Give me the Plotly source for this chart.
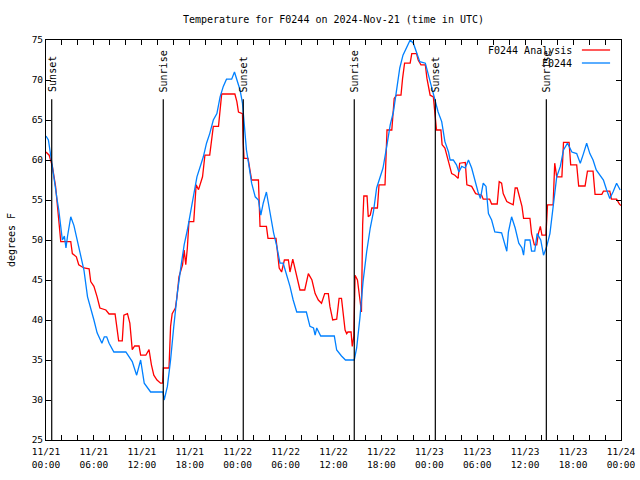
import pandas as pd
import plotly.graph_objects as go

BASE = pd.Timestamp("2024-11-21 00:00")

# Observations (F0244) - hours since 11/21 00:00 UTC, degrees F
obs_hours = [0, 0.3, 0.6, 1.0, 1.4, 1.6, 1.85, 2.05, 2.3, 2.5, 2.7, 3.1, 3.5, 3.9, 4.3, 4.75, 5.2, 5.6,
             6.0, 6.4, 6.85, 7.0, 7.3, 7.6, 7.9, 8.5, 10.0, 10.8, 11.35, 11.85, 12.3, 13.1, 14.65, 14.8,
             15.2, 15.6, 16.0, 16.45, 16.9, 17.3, 17.7, 18.1, 18.45, 18.9, 19.3, 19.7, 20.1, 20.5, 20.95,
             21.4, 21.8, 22.2, 22.6, 23.25, 23.6, 23.9, 24.3, 24.6, 24.9, 25.1, 25.3, 25.5, 25.75, 26.2,
             26.6, 26.9, 27.2, 27.6, 28.0, 28.5, 28.9, 29.3, 29.7, 30.1, 30.55, 30.95, 31.4, 32.6, 33.05,
             33.5, 33.7, 33.9, 34.4, 36.1, 36.4, 37.0, 37.5, 38.6, 38.9, 39.3, 39.7, 40.15, 40.6, 41.0,
             41.4, 41.8, 42.2, 42.7, 43.1, 43.5, 43.9, 44.3, 44.7, 45.2, 45.6, 46.0, 46.4, 46.8, 47.5,
             47.9, 48.3, 48.7, 49.1, 49.55, 49.95, 50.4, 50.6, 51.0, 51.4, 51.7, 52.05, 52.5, 52.9, 53.3,
             53.7, 54.1, 54.4, 54.75, 55.1, 55.4, 55.8, 56.2, 57.05, 57.5, 57.7, 57.9, 58.3, 58.75, 59.2,
             59.6, 59.8, 60.0, 60.6, 60.8, 61.2, 61.5, 61.95, 62.3, 62.7, 63.1, 63.5, 63.95, 64.4, 64.8,
             65.3, 65.85, 66.45, 66.9, 67.3, 67.7, 68.1, 68.5, 68.9, 69.4, 69.8, 70.2, 70.6, 71.0, 71.45,
             71.9]
obs_temp = [63.0, 62.5, 60.5, 57.5, 55.0, 53.75, 51.7, 50.0, 50.5, 49.0, 50.5, 52.9, 51.8, 50.0, 48.4,
            46.25, 42.9, 41.6, 40.0, 38.4, 37.5, 37.1, 37.9, 37.9, 37.1, 36.0, 36.0, 34.8, 33.1, 35.0, 32.1,
            31.0, 31.0, 30.0, 31.7, 35.0, 39.2, 43.4, 46.7, 49.4, 51.25, 53.75, 55.4, 57.9, 59.2, 60.4,
            62.1, 63.3, 65.0, 65.8, 67.9, 69.2, 70.1, 70.1, 71.0, 70.0, 68.75, 67.1, 62.9, 61.25, 60.0,
            58.4, 57.1, 55.4, 55.0, 53.1, 54.6, 56.0, 53.75, 50.9, 49.2, 47.1, 47.1, 45.8, 44.2, 42.5,
            41.0, 41.0, 39.2, 39.0, 38.1, 39.0, 38.0, 38.0, 36.25, 35.5, 35.0, 35.0, 36.5, 40.2, 44.8,
            48.5, 51.5, 53.5, 56.5, 57.75, 59.0, 61.9, 64.4, 66.0, 69.0, 71.5, 73.1, 74.2, 75.0, 74.6,
            73.5, 72.3, 72.1, 70.6, 69.0, 67.3, 66.0, 64.8, 62.3, 61.0, 60.0, 60.0, 59.4, 58.5, 59.2,
            59.0, 60.0, 59.0, 57.3, 56.0, 55.2, 57.1, 56.7, 53.3, 52.5, 51.0, 50.9, 49.2, 48.6, 51.0,
            52.9, 51.5, 49.6, 49.0, 48.1, 50.0, 50.0, 48.6, 48.6, 50.8, 50.0, 48.1, 49.2, 50.8, 54.2,
            57.9, 59.2, 61.25, 62.1, 61.0, 60.8, 59.6, 60.8, 62.1, 60.8, 60.0, 58.75, 58.1, 57.5, 56.25,
            55.2, 56.0, 57.1, 56.25]

# Analysis (F0244 Analysis)
ana_hours = [0, 0.4, 0.8, 1.0, 1.2, 1.4, 1.6, 1.85, 3.1, 3.3, 3.8, 4.1, 4.75, 5.4, 5.6, 6.0, 6.4, 6.75,
             7.5, 7.9, 8.65, 8.9, 9.1, 9.55, 9.75, 10.2, 10.5, 10.8, 11.1, 11.65, 11.85, 12.5, 12.9, 13.2,
             13.5, 13.9, 14.35, 14.6, 14.7, 15.4, 15.6, 15.8, 16.2, 16.4, 16.65, 17.1, 17.3, 17.5, 17.7,
             17.9, 18.5, 18.8, 19.1, 19.6, 19.9, 20.5, 20.65, 20.95, 21.6, 21.8, 22.0, 23.65, 23.9, 24.1,
             24.6, 24.7, 24.8, 25.3, 25.75, 26.6, 26.8, 27.6, 27.8, 28.8, 29.0, 29.2, 29.5, 29.85, 30.35,
             30.55, 30.9, 31.3, 31.8, 32.4, 32.85, 33.3, 33.7, 34.1, 34.5, 34.9, 35.35, 35.55, 35.9, 36.4,
             36.7, 37.0, 37.45, 37.65, 37.8, 38.2, 38.35, 38.55, 38.7, 39.0, 39.3, 39.5, 39.65, 39.8, 40.2,
             40.35, 40.6, 40.8, 41.5, 41.7, 42.45, 42.7, 43.3, 43.6, 43.9, 44.45, 44.65, 44.9, 45.6, 45.8,
             46.4, 46.6, 46.95, 47.5, 47.7, 48.1, 48.5, 48.7, 48.9, 49.45, 49.6, 49.95, 50.4, 50.8, 51.2,
             51.6, 51.8, 52.5, 52.7, 53.3, 53.8, 54.55, 54.75, 55.55, 55.8, 56.5, 56.75, 57.05, 57.25,
             57.7, 58.5, 58.75, 59.0, 59.35, 59.6, 59.8, 60.6, 60.8, 61.15, 61.45, 61.65, 61.9, 62.1,
             62.6, 62.8, 63.5, 63.7, 63.95, 64.6, 64.8, 65.5, 65.7, 66.45, 66.7, 67.5, 67.8, 68.5, 68.75,
             69.6, 69.8, 70.6, 70.8, 71.45, 71.8, 72.0]
ana_temp = [61.0, 60.6, 59.2, 57.9, 56.7, 54.6, 52.1, 49.8, 49.8, 48.3, 47.9, 46.9, 46.5, 46.4, 44.8,
            44.2, 42.9, 41.5, 41.25, 40.75, 40.75, 39.2, 37.4, 37.4, 40.6, 40.8, 39.6, 36.3, 36.75, 36.75,
            35.6, 35.6, 36.3, 34.4, 33.1, 32.5, 32.1, 32.1, 34.0, 34.0, 39.2, 40.8, 41.5, 42.9, 45.4,
            46.9, 48.75, 46.9, 49.0, 52.3, 52.3, 56.9, 56.3, 57.9, 60.6, 60.6, 62.1, 64.2, 64.2, 66.7,
            68.25, 68.25, 67.3, 66.0, 65.8, 62.1, 60.2, 60.2, 57.5, 57.5, 51.7, 51.7, 50.2, 50.2, 48.3,
            46.5, 46.0, 47.5, 47.5, 46.0, 47.6, 45.8, 43.75, 43.75, 45.8, 45.0, 43.3, 42.5, 42.1, 43.3,
            43.3, 41.7, 40.0, 40.1, 42.7, 42.7, 38.75, 38.3, 38.5, 38.5, 36.7, 38.0, 45.6, 45.0, 42.7,
            41.0, 51.9, 55.5, 55.5, 52.9, 53.1, 54.0, 54.0, 56.9, 56.9, 63.75, 63.75, 67.7, 68.1, 68.1,
            70.2, 72.1, 72.1, 73.3, 73.3, 72.5, 71.9, 71.9, 70.2, 68.1, 67.9, 65.8, 63.75, 63.75, 61.9,
            61.5, 59.8, 58.3, 58.1, 57.7, 59.6, 59.7, 56.9, 56.7, 55.8, 55.6, 55.1, 55.1, 54.5, 54.5,
            57.3, 57.1, 55.8, 54.8, 54.4, 56.5, 56.5, 55.2, 54.2, 52.7, 52.7, 50.8, 49.4, 49.4, 50.8,
            51.7, 50.6, 50.6, 54.4, 54.4, 59.6, 57.9, 57.9, 62.2, 62.2, 59.4, 59.4, 56.75, 56.75, 58.6,
            58.6, 55.7, 55.7, 56.1, 56.1, 55.1, 55.1, 54.5, 54.3]

# Sun events (UTC)
sun_labels = ["Sunset", "Sunrise", "Sunset", "Sunrise", "Sunset", "Sunrise"]
sun_times = ["2024-11-21 00:43", "2024-11-21 14:41", "2024-11-22 00:42",
             "2024-11-22 14:36", "2024-11-23 00:45", "2024-11-23 14:39"]
SUN_LINE_TOP = 67.6

series_names = ["F0244 Analysis", "F0244"]
series_colors = ["#ff0000", "#0080ff"]

obs_t = BASE + pd.to_timedelta(obs_hours, unit="h")
ana_t = BASE + pd.to_timedelta(ana_hours, unit="h")

FONT = "DejaVu Sans Mono"

fig = go.Figure()
fig.add_trace(go.Scatter(x=ana_t, y=ana_temp, mode="lines", name=series_names[0],
                         line=dict(color=series_colors[0], width=1.3), showlegend=False))
fig.add_trace(go.Scatter(x=obs_t, y=obs_temp, mode="lines", name=series_names[1],
                         line=dict(color=series_colors[1], width=1.3), showlegend=False))

shapes = []
annotations = []
for lab, t in zip(sun_labels, sun_times):
    shapes.append(dict(type="line", xref="x", yref="y", x0=t, x1=t, y0=25, y1=SUN_LINE_TOP,
                       line=dict(color="black", width=1.2)))
    annotations.append(dict(x=t, y=SUN_LINE_TOP, xref="x", yref="y", text=lab, textangle=-90,
                            showarrow=False, xanchor="center", yanchor="bottom", yshift=5,
                            font=dict(family=FONT, size=10, color="black")))

# gnuplot-style key (text then sample line), top right
key_y = [0.975, 0.9425]
for name, col, ky in zip(series_names, series_colors, key_y):
    annotations.append(dict(x=0.919, y=ky, xref="paper", yref="paper", text=name, showarrow=False,
                            xanchor="right", yanchor="middle",
                            font=dict(family=FONT, size=10, color="black")))
    shapes.append(dict(type="line", xref="paper", yref="paper", x0=0.932, x1=0.981, y0=ky, y1=ky,
                       line=dict(color=col, width=1.3)))

fig.update_layout(
    width=640, height=480,
    margin=dict(l=46, r=19, t=40, b=40, autoexpand=False),
    paper_bgcolor="white", plot_bgcolor="white",
    title=dict(text="Temperature for F0244 on 2024-Nov-21 (time in UTC)", x=333.5 / 640,
               xanchor="center", y=1 - 19 / 480, yanchor="middle", automargin=False,
               font=dict(family=FONT, size=10, color="black")),
    shapes=shapes, annotations=annotations,
    showlegend=False,
)
fig.update_xaxes(
    type="date", range=["2024-11-21 00:00", "2024-11-24 00:00"], automargin=False,
    tick0="2024-11-21 00:00", dtick=6 * 3600 * 1000, tickformat="%m/%d<br>%H:%M",
    ticks="inside", ticklen=5, tickcolor="black", showline=True, linecolor="black", linewidth=1,
    mirror="ticks", showgrid=False, zeroline=False, ticklabelstandoff=3,
    minor=dict(dtick=2 * 3600 * 1000, ticks="inside", ticklen=5, tickcolor="black", showgrid=False),
    tickfont=dict(family=FONT, size=9.5, color="black"),
)
fig.update_yaxes(
    range=[25, 75], dtick=5, tick0=25, automargin=False,
    ticks="inside", ticklen=5, tickcolor="black", showline=True, linecolor="black", linewidth=1,
    mirror="ticks", showgrid=False, zeroline=False,
    tickfont=dict(family=FONT, size=9.5, color="black"),
    title=dict(text="degrees F", font=dict(family=FONT, size=10, color="black"), standoff=14),
)

fig.write_html("out.html")
